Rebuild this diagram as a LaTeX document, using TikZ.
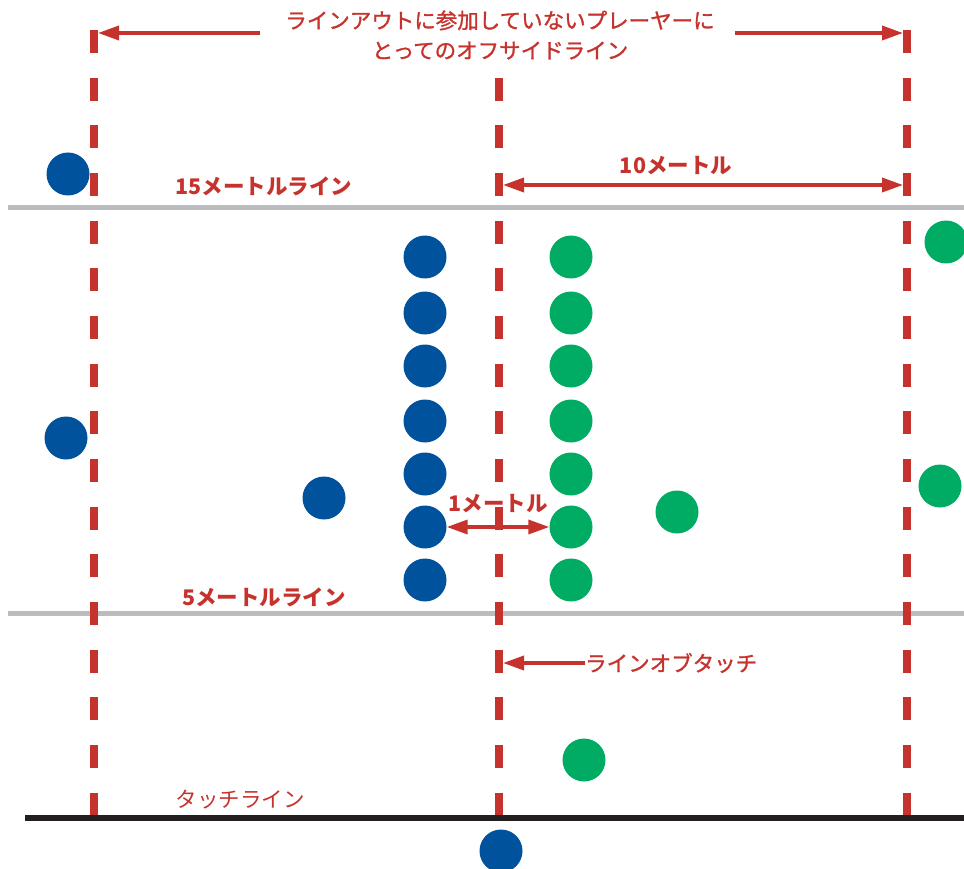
\documentclass[tikz,border=0pt]{standalone}
\usepackage{fontspec}
\newfontfamily\jpfont{Noto Sans CJK JP}
\newfontfamily\jpmed{Noto Sans CJK JP}[FakeBold=1.2]
\usetikzlibrary{arrows.meta}
\definecolor{myred}{HTML}{C6332D}
\definecolor{myblue}{HTML}{00529C}
\definecolor{mygreen}{HTML}{00AB63}
\definecolor{mygray}{HTML}{BBBCBF}
\definecolor{myblack}{HTML}{231F20}
\begin{document}
\begin{tikzpicture}[x=1pt,y=-1pt,
  redline/.style={myred,line width=8pt,dash pattern=on 23pt off 24.67pt},
  grayline/.style={mygray,line width=5pt},
  touch/.style={myblack,line width=6pt},
  bp/.style={circle,fill=myblue,minimum size=43pt,inner sep=0pt},
  gp/.style={circle,fill=mygreen,minimum size=43pt,inner sep=0pt},
  lbl/.style={text=myred,font=\jpmed\fontsize{21.5}{30}\selectfont,inner sep=0pt},
  tlbl/.style={text=myred,font=\jpfont\fontsize{21.5}{30}\selectfont,inner sep=0pt},
  blbl/.style={text=myred,font=\jpfont\bfseries\fontsize{21.5}{30}\selectfont,inner sep=0pt},
  arr/.style={myred,line width=3.5pt,-{Triangle[length=21pt,width=14pt]}},
  darr/.style={myred,line width=3.5pt,{Triangle[length=21pt,width=14pt]}-{Triangle[length=21pt,width=14pt]}}
]
\useasboundingbox (0,0) rectangle (964,869);
% field lines
\coordinate (g15a) at (8,208); \coordinate (g15b) at (964,208);
\coordinate (g5a) at (8,613); \coordinate (g5b) at (964,613);
\draw[grayline] (g15a) -- (g15b);
\draw[grayline] (g5a) -- (g5b);
% dashed offside lines
\coordinate (la) at (94,30); \coordinate (lb) at (94,816);
\coordinate (ma) at (499,77.67); \coordinate (mb) at (499,816);
\coordinate (ra) at (907,30); \coordinate (rb) at (907,816);
\draw[redline] (la) -- (lb);
\draw[redline] (ma) -- (mb);
\draw[redline] (ra) -- (rb);
% touch line
\coordinate (ta) at (25,818); \coordinate (tb) at (964,818);
\draw[touch] (ta) -- (tb);
% players
\node[bp] (b1) at (68,174) {};
\node[bp] (b2) at (66,438) {};
\node[bp] (b3) at (324,498) {};
\node[bp] (b4) at (501,851) {};
\foreach \i/\y in {1/257,2/313,3/366,4/421,5/474,6/527,7/580}{
  \node[bp] (bc\i) at (425,\y) {};
  \node[gp] (gc\i) at (571,\y) {};
}
\node[gp] (g1) at (677,512) {};
\node[gp] (g2) at (584,760) {};
\node[gp] (g3) at (946,242) {};
\node[gp] (g4) at (940,486) {};
% labels
\node[lbl,align=center] (top) at (500,35) {ラインアウトに参加していないプレーヤーに\\とってのオフサイドライン};
\coordinate (tl0) at (260,33); \coordinate (tl1) at (98,33);
\coordinate (tr0) at (735,33); \coordinate (tr1) at (903,33);
\draw[arr] (tl0) -- (tl1);
\draw[arr] (tr0) -- (tr1);
\node[blbl] (l15) at (264,186) {15メートルライン};
\node[blbl] (l10) at (676,166) {10メートル};
\coordinate (m10a) at (503,185); \coordinate (m10b) at (903,185);
\draw[darr] (m10a) -- (m10b);
\node[blbl] (l1) at (498,504) {1メートル};
\draw[darr] (bc6.east) -- (gc6.west);
\node[blbl] (l5) at (264,597) {5メートルライン};
\node[lbl,anchor=west] (lot) at (585,663) {ラインオブタッチ};
\coordinate (lotend) at (503,663);
\draw[arr] (lot.west) -- (lotend);
\node[tlbl] (tlab) at (240,800) {タッチライン};
\end{tikzpicture}
\end{document}
